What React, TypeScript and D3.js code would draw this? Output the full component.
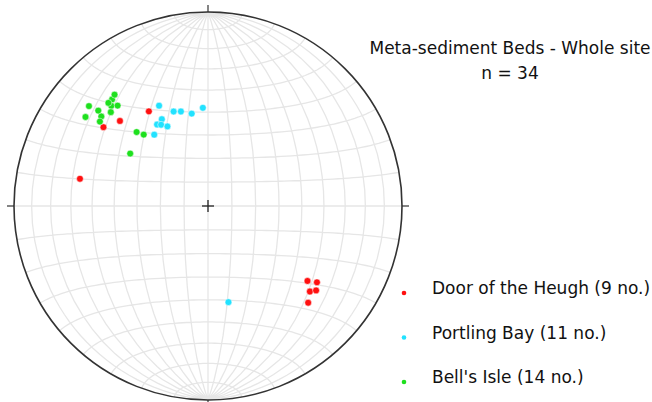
import React from 'react';
import * as d3 from 'd3';

// poles to bedding, [trend, plunge] in degrees, lower hemisphere
const doorOfTheHeugh = [
  [328, 42], [314, 37], [307, 33], [282, 33],
  [127, 36], [125, 32], [130, 32], [128, 30], [134, 29],
];
const portlingBay = [
  [334, 42], [340, 47], [344, 48], [350, 50], [357, 48], [332, 48],
  [328, 49], [330, 50], [333, 52], [323, 52], [168, 48],
];
const bellsIsle = [
  [318, 27], [320, 26], [310, 21], [311, 26], [316, 29], [318, 31], [314, 31],
  [306, 23], [310, 29], [308, 30], [316, 46], [318, 49], [304, 50], [316, 27],
];

const seriesNames = ['Door of the Heugh', 'Portling Bay', "Bell's Isle"];
const seriesColors = ['#ff1010', '#22e2ff', '#1ee01e'];
const seriesData = [doorOfTheHeugh, portlingBay, bellsIsle];

const title = 'Meta-sediment Beds - Whole site';

const W = 652;
const H = 402;
const cx = 208;
const cy = 206;
const R = 194;

// Schmidt net = equatorial Lambert azimuthal equal-area
const projection = d3.geoAzimuthalEqualArea()
  .rotate([0, 0])
  .scale(R / Math.SQRT2)
  .translate([cx, cy])
  .clipAngle(90)
  .precision(0.2);

const path = d3.geoPath(projection);
const graticule = d3.geoGraticule()
  .extent([[-180, -89.999], [180, 89.999]])
  .step([10, 10]);

const rad = Math.PI / 180;
// trend/plunge -> lon/lat on the projection sphere
const toGeo = ([t, p]: number[]): [number, number] => {
  const tr = t * rad;
  const pr = p * rad;
  const east = Math.sin(tr) * Math.cos(pr);
  const north = Math.cos(tr) * Math.cos(pr);
  const down = Math.sin(pr);
  return [Math.atan2(east, down) / rad, Math.asin(north) / rad];
};

const font = '"DejaVu Sans", Verdana, sans-serif';

export default function App() {
  const n = seriesData.reduce((s, d) => s + d.length, 0);
  const legendY = d3.scalePoint<number>().domain([0, 1, 2]).range([293, 382]);

  return (
    <svg width={W} height={H} style={{ position: 'absolute', left: 0, top: 0, background: '#fff' }}>
      <path d={path(graticule()) || ''} fill="none" stroke="#e6e6e6" strokeWidth={1.3} />
      <circle cx={cx} cy={cy} r={R} fill="none" stroke="#333" strokeWidth={1.6} />
      {/* N E S W ticks */}
      <line x1={cx} x2={cx} y1={cy - R} y2={cy - R - 7} stroke="#333" strokeWidth={1.2} />
      <line x1={cx} x2={cx} y1={cy + R} y2={cy + R + 7} stroke="#333" strokeWidth={1.2} />
      <line x1={cx + R} x2={cx + R + 7} y1={cy} y2={cy} stroke="#333" strokeWidth={1.2} />
      <line x1={cx - R} x2={cx - R - 7} y1={cy} y2={cy} stroke="#333" strokeWidth={1.2} />
      {/* centre cross */}
      <line x1={cx - 6} x2={cx + 6} y1={cy} y2={cy} stroke="#222" strokeWidth={1.3} />
      <line x1={cx} x2={cx} y1={cy - 6} y2={cy + 6} stroke="#222" strokeWidth={1.3} />

      {seriesData.map((data, i) => (
        <g key={i}>
          {data.map((d, j) => {
            const [x, y] = projection(toGeo(d)) as [number, number];
            return <circle key={j} cx={x} cy={y} r={3.4} fill={seriesColors[i]} stroke="#fff" strokeWidth={0.5} />;
          })}
        </g>
      ))}

      <text x={510} y={54} textAnchor="middle" fontFamily={font} fontSize={17} fill="#111">{title}</text>
      <text x={510} y={79} textAnchor="middle" fontFamily={font} fontSize={17} fill="#111">n = {n}</text>

      {seriesNames.map((name, i) => (
        <g key={name}>
          <circle cx={404} cy={legendY(i)} r={2.3} fill={seriesColors[i]} />
          <text x={432} y={legendY(i)! + 1} fontFamily={font} fontSize={17} fill="#111">
            {name} ({seriesData[i].length} no.)
          </text>
        </g>
      ))}
    </svg>
  );
}
